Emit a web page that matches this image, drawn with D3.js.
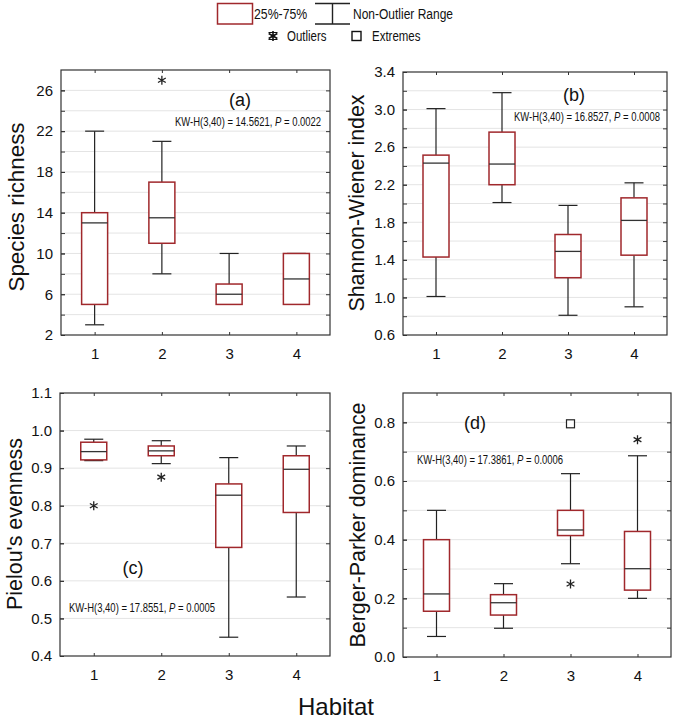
<!DOCTYPE html>
<html>
<head>
<meta charset="utf-8">
<script src="https://cdn.jsdelivr.net/npm/d3@7"></script>
<style>
  html, body { margin: 0; padding: 0; background: #fff; }
  svg { display: block; font-family: "Liberation Sans", Arial, sans-serif; }
</style>
</head>
<body>
<svg id="chart" width="675" height="721"></svg>
<script>
// ---------------- DATA ----------------
const habitats = ["1", "2", "3", "4"];

// (a) Species richness
const richMin = [3, 8, 5, 5];
const richQ1 = [5, 11, 5, 5];
const richMed = [13, 13.5, 6, 7.5];
const richQ3 = [14, 17, 7, 10];
const richMax = [22, 21, 10, 10];
const richOutliers = [[], [27], [], []];
const richExtremes = [[], [], [], []];
const richTicks = [2, 6, 10, 14, 18, 22, 26];

// (b) Shannon-Wiener index
const shanMin = [1.01, 2.01, 0.81, 0.90];
const shanQ1 = [1.43, 2.20, 1.21, 1.45];
const shanMed = [2.43, 2.42, 1.49, 1.82];
const shanQ3 = [2.515, 2.76, 1.67, 2.06];
const shanMax = [3.01, 3.18, 1.98, 2.22];
const shanOutliers = [[], [], [], []];
const shanExtremes = [[], [], [], []];
const shanTicks = [0.6, 1.0, 1.4, 1.8, 2.2, 2.6, 3.0, 3.4];

// (c) Pielou's evenness
const pielMin = [0.920, 0.912, 0.450, 0.557];
const pielQ1 = [0.922, 0.933, 0.689, 0.782];
const pielMed = [0.944, 0.946, 0.828, 0.897];
const pielQ3 = [0.969, 0.959, 0.858, 0.933];
const pielMax = [0.977, 0.973, 0.928, 0.959];
const pielOutliers = [[0.80], [0.876], [], []];
const pielExtremes = [[], [], [], []];
const pielTicks = [0.4, 0.5, 0.6, 0.7, 0.8, 0.9, 1.0, 1.1];

// (d) Berger-Parker dominance
const bpMin = [0.070, 0.098, 0.318, 0.200];
const bpQ1 = [0.156, 0.143, 0.414, 0.228];
const bpMed = [0.215, 0.185, 0.433, 0.301];
const bpQ3 = [0.400, 0.2125, 0.500, 0.428];
const bpMax = [0.500, 0.250, 0.625, 0.686];
const bpOutliers = [[], [], [0.249], [0.741]];
const bpExtremes = [[], [], [0.795], []];
const bpTicks = [0.0, 0.2, 0.4, 0.6, 0.8];

// ---------------- STYLE ----------------
const boxColor = "#a0282c";
const lineColor = "#222";
const gridColor = "#e4e4e4";

const svg = d3.select("#chart");

function asterisk(r) {
  const u = r * Math.cos(Math.PI / 6), t = r / 2;
  return `M0,${-r}V${r}M${-u},${-t}L${u},${t}M${-u},${t}L${u},${-t}`;
}

function drawPanel(p) {
  const g = svg.append("g");
  const x = d3.scalePoint().domain(habitats).range([p.left, p.right]).padding(0.5);
  const y = d3.scaleLinear().domain(p.domain).range([p.bottom, p.top]);
  const w = p.right - p.left;

  // grid lines
  const gridVals = d3.range(p.domain[0] + p.gridStep, p.domain[1] - 1e-9, p.gridStep)
    .map(v => +v.toFixed(4));
  g.append("g")
    .selectAll("line").data(gridVals).join("line")
    .attr("x1", p.left).attr("x2", p.right)
    .attr("y1", d => y(d)).attr("y2", d => y(d))
    .attr("stroke", gridColor).attr("stroke-width", 1);

  // left axis (major labeled)
  const la = g.append("g").attr("transform", `translate(${p.left},0)`)
    .call(d3.axisLeft(y).tickValues(p.ticks).tickFormat(p.fmt)
      .tickSizeInner(-4).tickSizeOuter(0).tickPadding(8));
  la.select(".domain").remove();
  la.selectAll("text").attr("font-size", 15).attr("fill", "#111")
    .attr("font-family", "Liberation Sans, Arial, sans-serif");
  la.selectAll("line").attr("stroke", "#333");
  // minor ticks left and right
  const minorL = g.append("g").attr("transform", `translate(${p.left},0)`)
    .call(d3.axisLeft(y).tickValues(gridVals).tickFormat("").tickSizeInner(-4).tickSizeOuter(0));
  minorL.select(".domain").remove();
  minorL.selectAll("line").attr("stroke", "#333");
  const ra = g.append("g").attr("transform", `translate(${p.right},0)`)
    .call(d3.axisRight(y).tickValues(gridVals).tickFormat("").tickSizeInner(-4).tickSizeOuter(0));
  ra.select(".domain").remove();
  ra.selectAll("line").attr("stroke", "#333");

  // bottom axis
  const ba = g.append("g").attr("transform", `translate(0,${p.bottom})`)
    .call(d3.axisBottom(x).tickSizeInner(-3).tickSizeOuter(0).tickPadding(13));
  ba.select(".domain").remove();
  ba.selectAll("text").attr("font-size", 15).attr("fill", "#111")
    .attr("font-family", "Liberation Sans, Arial, sans-serif");
  ba.selectAll("line").attr("stroke", "#333");
  // top ticks
  const ta = g.append("g").attr("transform", `translate(0,${p.top})`)
    .call(d3.axisTop(x).tickFormat("").tickSizeInner(-3).tickSizeOuter(0));
  ta.select(".domain").remove();
  ta.selectAll("line").attr("stroke", "#333");

  // frame
  g.append("rect").attr("x", p.left).attr("y", p.top)
    .attr("width", w).attr("height", p.bottom - p.top)
    .attr("fill", "none").attr("stroke", "#333").attr("stroke-width", 1.2);

  const bw = 26, cw = 19;
  const rows = habitats.map((h, i) => ({
    h, min: p.min[i], q1: p.q1[i], med: p.med[i], q3: p.q3[i], max: p.max[i],
    out: p.outliers[i], ext: p.extremes[i]
  }));
  const bx = g.append("g");
  rows.forEach(r => {
    const cx = x(r.h);
    const gg = bx.append("g");
    // whiskers
    if (r.max > r.q3) {
      gg.append("line").attr("x1", cx).attr("x2", cx).attr("y1", y(r.q3)).attr("y2", y(r.max))
        .attr("stroke", lineColor).attr("stroke-width", 1.2);
    }
    gg.append("line").attr("x1", cx - cw / 2).attr("x2", cx + cw / 2)
      .attr("y1", y(r.max)).attr("y2", y(r.max)).attr("stroke", lineColor).attr("stroke-width", 1.2);
    if (r.min < r.q1) {
      gg.append("line").attr("x1", cx).attr("x2", cx).attr("y1", y(r.q1)).attr("y2", y(r.min))
        .attr("stroke", lineColor).attr("stroke-width", 1.2);
    }
    gg.append("line").attr("x1", cx - cw / 2).attr("x2", cx + cw / 2)
      .attr("y1", y(r.min)).attr("y2", y(r.min)).attr("stroke", lineColor).attr("stroke-width", 1.2);
    // box
    gg.append("rect").attr("x", cx - bw / 2).attr("y", y(r.q3))
      .attr("width", bw).attr("height", y(r.q1) - y(r.q3))
      .attr("fill", "#fff").attr("stroke", boxColor).attr("stroke-width", 1.5);
    // median
    gg.append("line").attr("x1", cx - bw / 2).attr("x2", cx + bw / 2)
      .attr("y1", y(r.med)).attr("y2", y(r.med)).attr("stroke", "#333").attr("stroke-width", 1.3);
    // outliers
    r.out.forEach(v => {
      gg.append("path").attr("d", asterisk(4.5))
        .attr("transform", `translate(${cx},${y(v)})`)
        .attr("fill", "none").attr("stroke", "#222").attr("stroke-width", 1.3);
    });
    r.ext.forEach(v => {
      gg.append("rect").attr("x", cx - 4).attr("y", y(v) - 4).attr("width", 8).attr("height", 8)
        .attr("fill", "#fff").attr("stroke", "#222").attr("stroke-width", 1.2);
    });
  });

  // panel letter
  g.append("text").attr("x", p.letterX).attr("y", p.letterY)
    .attr("text-anchor", "middle").attr("font-size", 18).attr("fill", "#111")
    .text(p.letter);

  // KW text (horizontally condensed)
  const kw = g.append("text")
    .attr("transform", `translate(${p.kwX},${p.kwY}) scale(0.79,1)`)
    .attr("font-size", 12).attr("fill", "#111");
  kw.append("tspan").text(p.kw1);
  kw.append("tspan").attr("font-style", "italic").text("P");
  kw.append("tspan").text(p.kw2);

  // y title
  svg.append("text")
    .attr("transform", `translate(${p.titleX},${p.titleY}) rotate(-90)`)
    .attr("text-anchor", "middle").attr("dominant-baseline", "central")
    .attr("font-size", 22).attr("fill", "#111")
    .attr("textLength", p.titleLen).attr("lengthAdjust", "spacingAndGlyphs")
    .text(p.title);
}

const f0 = d3.format("d"), f1 = d3.format(".1f");

drawPanel({
  left: 61, right: 330, top: 70, bottom: 335, domain: [2, 28], ticks: richTicks, gridStep: 2, fmt: f0,
  min: richMin, q1: richQ1, med: richMed, q3: richQ3, max: richMax, outliers: richOutliers, extremes: richExtremes,
  letter: "(a)", letterX: 240, letterY: 106,
  kw1: "KW-H(3,40) = 14.5621, ", kw2: " = 0.0022", kwX: 175, kwY: 126,
  title: "Species richness", titleX: 16, titleY: 207, titleLen: 169
});
drawPanel({
  left: 403, right: 667, top: 72, bottom: 335, domain: [0.6, 3.4], ticks: shanTicks, gridStep: 0.2, fmt: f1,
  min: shanMin, q1: shanQ1, med: shanMed, q3: shanQ3, max: shanMax, outliers: shanOutliers, extremes: shanExtremes,
  letter: "(b)", letterX: 574, letterY: 101,
  kw1: "KW-H(3,40) = 16.8527, ", kw2: " = 0.0008", kwX: 514, kwY: 121,
  title: "Shannon-Wiener index", titleX: 356, titleY: 203, titleLen: 217
});
drawPanel({
  left: 60, right: 330, top: 393, bottom: 656, domain: [0.4, 1.1], ticks: pielTicks, gridStep: 0.1, fmt: f1,
  min: pielMin, q1: pielQ1, med: pielMed, q3: pielQ3, max: pielMax, outliers: pielOutliers, extremes: pielExtremes,
  letter: "(c)", letterX: 133, letterY: 574,
  kw1: "KW-H(3,40) = 17.8551, ", kw2: " = 0.0005", kwX: 69, kwY: 612,
  title: "Pielou's evenness", titleX: 14, titleY: 524, titleLen: 172
});
drawPanel({
  left: 403, right: 671, top: 393, bottom: 657, domain: [0, 0.9], ticks: bpTicks, gridStep: 0.1, fmt: f1,
  min: bpMin, q1: bpQ1, med: bpMed, q3: bpQ3, max: bpMax, outliers: bpOutliers, extremes: bpExtremes,
  letter: "(d)", letterX: 475, letterY: 429,
  kw1: "KW-H(3,40) = 17.3861, ", kw2: " = 0.0006", kwX: 417, kwY: 464,
  title: "Berger-Parker dominance", titleX: 357, titleY: 525, titleLen: 245
});

// x title
svg.append("text").attr("x", 336).attr("y", 715).attr("text-anchor", "middle")
  .attr("font-size", 24).attr("fill", "#111").text("Habitat");

// ---------------- LEGEND ----------------
const lg = svg.append("g");
lg.append("rect").attr("x", 217.5).attr("y", 3.5).attr("width", 35).attr("height", 20.5)
  .attr("fill", "#fff").attr("stroke", boxColor).attr("stroke-width", 1.5);
lg.append("text").attr("transform", "translate(254,19) scale(0.82,1)")
  .attr("font-size", 15).attr("fill", "#111").text("25%-75%");
lg.append("path").attr("d", "M315,3.5H350M332.5,3.5V24M315,24H350")
  .attr("fill", "none").attr("stroke", "#222").attr("stroke-width", 1.4);
lg.append("text").attr("transform", "translate(353,19) scale(0.8,1)")
  .attr("font-size", 15).attr("fill", "#111").text("Non-Outlier Range");
lg.append("path").attr("d", asterisk(5))
  .attr("transform", "translate(273,36)")
  .attr("fill", "none").attr("stroke", "#111").attr("stroke-width", 1.6);
lg.append("path").attr("d", "M268.5,32.5H277.5M268.5,39.5H277.5")
  .attr("fill", "none").attr("stroke", "#111").attr("stroke-width", 1.2);
lg.append("text").attr("transform", "translate(287,41) scale(0.82,1)")
  .attr("font-size", 14).attr("fill", "#111").text("Outliers");
lg.append("rect").attr("x", 352).attr("y", 31.5).attr("width", 9).attr("height", 9)
  .attr("fill", "#fff").attr("stroke", "#111").attr("stroke-width", 1.4);
lg.append("text").attr("transform", "translate(372,41) scale(0.82,1)")
  .attr("font-size", 14).attr("fill", "#111").text("Extremes");
</script>
</body>
</html>
